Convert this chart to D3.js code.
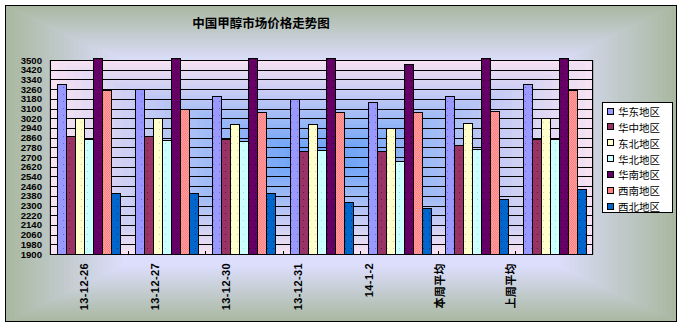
<!DOCTYPE html>
<html><head><meta charset="utf-8">
<script src="https://cdn.jsdelivr.net/npm/d3@7/dist/d3.min.js"></script>
<style>body{margin:0;background:#fff}svg{display:block}</style>
</head><body>
<script>
const categories = ["13-12-26","13-12-27","13-12-30","13-12-31","14-1-2","本周平均","上周平均"];
const seriesNames = ["华东地区","华中地区","东北地区","华北地区","华南地区","西南地区","西北地区"];
const huadong = [3300,3260,3200,3180,3150,3200,3300];
const huazhong = [2870,2870,2850,2750,2750,2800,2850];
const dongbei = [3020,3020,2970,2970,2940,2980,3020];
const huabei = [2850,2840,2830,2760,2670,2770,2850];
const huanan = [3520,3520,3520,3520,3470,3520,3520];
const xinan = [3250,3100,3070,3070,3070,3080,3250];
const xibei = [2400,2400,2400,2330,2280,2350,2440];
const yTicks = d3.range(1900, 3501, 80);
const colors = ["#9999FF","#993366","#FFFFCC","#CCFFFF","#660066","#FF8080","#0066CC"];
const dotColors = ["#6666dd","#661144","#ccccaa","#99dddd","#330033","#ffaaaa","#003388"];
const allSeries = [huadong,huazhong,dongbei,huabei,huanan,xinan,xibei];

const W = 681, H = 328;
const svg = d3.select("body").append("svg").attr("width", W).attr("height", H);
const defs = svg.append("defs");

colors.forEach((c,i)=>{
  const p = defs.append("pattern").attr("id","pat"+i).attr("patternUnits","userSpaceOnUse")
    .attr("width",6).attr("height",7);
  p.append("rect").attr("width",6).attr("height",7).attr("fill",c);
  if (i===5) {
    for (let yy=0; yy<7; yy++) for (let xx=(yy%2); xx<6; xx+=2)
      p.append("rect").attr("x",xx).attr("y",yy).attr("width",1).attr("height",1).attr("fill","#ff9f9f");
  } else {
    p.append("rect").attr("x",3).attr("y",3).attr("width",1).attr("height",1).attr("fill",dotColors[i]);
  }
});

function rectGradient(g, x, y, w, h, c0, c1, steps, reach) {
  const interp = d3.interpolateRgb(c0, c1);
  for (let i = 0; i <= steps; i++) {
    const t = i / steps;
    const dx = t * (w / 2) * reach, dy = t * (h / 2) * reach;
    g.append("rect").attr("x", x + dx).attr("y", y + dy)
      .attr("width", Math.max(0, w - 2*dx)).attr("height", Math.max(0, h - 2*dy))
      .attr("fill", interp(Math.min(1, t)));
  }
}

const bg = svg.append("g");
rectGradient(bg, 5, 5, 672, 317, "#a9b8a0", "#dcdefc", 24, 0.35);
svg.append("rect").attr("x",5.5).attr("y",5.5).attr("width",671).attr("height",316)
  .attr("fill","none").attr("stroke","#000").attr("stroke-width",1);

svg.append("text").attr("x",261).attr("y",28).attr("text-anchor","middle")
  .attr("font-family","'Noto Sans CJK SC'").attr("font-weight","bold").attr("font-size",12.5)
  .text("中国甲醇市场价格走势图");

const px0 = 50, px1 = 593, py0 = 60, py1 = 254;
const pb = svg.append("g");
rectGradient(pb, px0, py0, px1-px0, py1-py0, "#f6e2f2", "#6fa4f8", 30, 0.9);
svg.append("rect").attr("x",px0).attr("y",py0+0.5).attr("width",px1-px0).attr("height",py1-py0)
  .attr("fill","none").attr("stroke","#888");

const y = d3.scaleLinear().domain([1900,3500]).range([py1, py0]);
const x = d3.scaleBand().domain(categories).range([px0, px1]).paddingInner(0.188).paddingOuter(0.094);
const xs = d3.scaleBand().domain(d3.range(7)).range([0, x.bandwidth()]);

svg.append("g").selectAll("line").data(yTicks).join("line")
  .attr("x1",px0).attr("x2",px1).attr("y1",d=>Math.round(y(d))+0.5).attr("y2",d=>Math.round(y(d))+0.5)
  .attr("stroke","#000");

allSeries.forEach((vals,si)=>{
  svg.append("g").selectAll("rect").data(vals).join("rect")
    .attr("x",(d,i)=>Math.round(x(categories[i]) + xs(si))+0.5)
    .attr("y",d=>Math.round(y(d))+0.5)
    .attr("width",Math.round(xs.bandwidth()))
    .attr("height",d=>Math.round(py1) - Math.round(y(d)))
    .attr("fill","url(#pat"+si+")")
    .attr("stroke","#000").attr("stroke-width",1);
});

const yAxis = svg.append("g").attr("transform",`translate(${px0},0)`)
  .call(d3.axisLeft(y).tickValues(yTicks).tickSize(0).tickPadding(8).tickFormat(d3.format("d")));
yAxis.select(".domain").remove();
yAxis.selectAll("text").attr("font-family","'Liberation Sans',Arial").attr("font-weight","bold")
  .attr("font-size",9.6).attr("fill","#000");
svg.append("line").attr("x1",px0+0.5).attr("x2",px0+0.5).attr("y1",py0).attr("y2",py1).attr("stroke","#000");
svg.append("line").attr("x1",px1-0.5).attr("x2",px1-0.5).attr("y1",py0).attr("y2",py1).attr("stroke","#000");
svg.append("line").attr("x1",px0).attr("x2",px1).attr("y1",py1+0.5).attr("y2",py1+0.5).attr("stroke","#000");

const step = x.step();
svg.append("g").selectAll("line").data(d3.range(1,7)).join("line")
  .attr("x1",d=>Math.round(px0 + d*step)+0.5).attr("x2",d=>Math.round(px0 + d*step)+0.5)
  .attr("y1",py1-3).attr("y2",py1).attr("stroke","#000");

const xl = d3.scaleBand().domain(categories).range([48, 547]);
svg.append("g").selectAll("text").data(categories).join("text")
  .attr("transform",d=>`translate(${xl(d)+xl.bandwidth()/2},263) rotate(-90)`)
  .attr("text-anchor","end").attr("dominant-baseline","central")
  .attr("font-family","'Liberation Sans','Noto Sans CJK SC'").attr("font-weight","bold").attr("font-size",11)
  .attr("letter-spacing",0.4)
  .text(d=>d);

const lg = svg.append("g");
lg.append("rect").attr("x",602.5).attr("y",102.5).attr("width",70).attr("height",110)
  .attr("fill","#fff").attr("stroke","#000");
const ly = d3.scalePoint().domain(seriesNames).range([111.5, 206.5]);
seriesNames.forEach((n,i)=>{
  lg.append("rect").attr("x",607.5).attr("y",Math.round(ly(n))-3.5).attr("width",6).attr("height",6)
    .attr("fill",colors[i]).attr("stroke","#000");
  lg.append("text").attr("x",618).attr("y",ly(n)).attr("dominant-baseline","central")
    .attr("font-family","'Noto Sans CJK SC'").attr("font-size",10.5).text(n);
});
</script>
</body></html>
